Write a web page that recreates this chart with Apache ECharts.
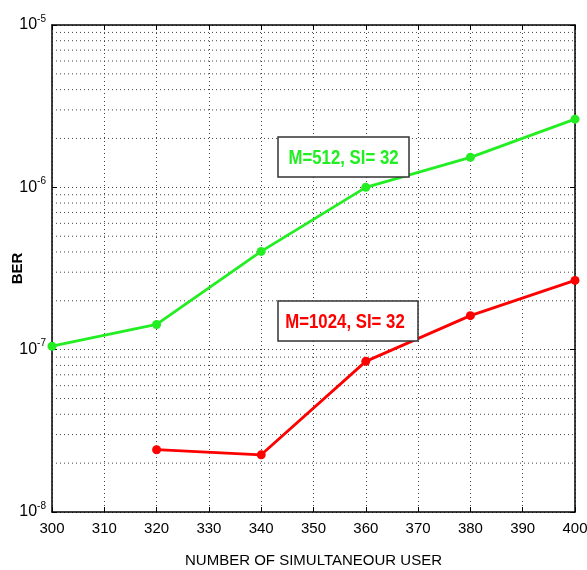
<!DOCTYPE html>
<html><head><meta charset="utf-8">
<script src="https://cdn.jsdelivr.net/npm/echarts@6/dist/echarts.min.js"></script>
<style>html,body{margin:0;padding:0;background:#fff}#c{width:587px;height:570px}</style>
</head><body><div id="c"></div>
<script>
const users = [300, 320, 340, 360, 380, 400];
const berM512 = [1.05e-7, 1.43e-7, 4.03e-7, 1.0e-6, 1.53e-6, 2.63e-6];
const berM1024 = [null, 2.42e-8, 2.25e-8, 8.47e-8, 1.62e-7, 2.67e-7];
const xTicks = [300, 310, 320, 330, 340, 350, 360, 370, 380, 390, 400];
const yDecades = [-8, -7, -6, -5];
const labelM512 = 'M=512, SI= 32';
const labelM1024 = 'M=1024, SI= 32';
const xTitle = 'NUMBER OF SIMULTANEOUR USER';
const yTitle = 'BER';

const FONT = 'Liberation Sans, Arial, sans-serif';
const xMin = xTicks[0], xMax = xTicks[xTicks.length - 1];
const gridDot = { color: '#444', width: 1, type: [1, 3] };
const minorSeries = [];
for (let d = yDecades[0]; d < yDecades[yDecades.length - 1]; d++) {
  for (let k = 2; k <= 9; k++) {
    const v = k * Math.pow(10, d);
    minorSeries.push({
      type: 'line', silent: true, symbol: 'none', z: 1,
      data: [[xMin, v], [xMax, v]], lineStyle: gridDot, tooltip: { show: false }
    });
  }
}
const pairs = (ys) => users.map((u, i) => [u, ys[i]]).filter(p => p[1] != null);

const chart = echarts.init(document.getElementById('c'));
const yLabel = {
  fontFamily: FONT, color: '#000', margin: 6,
  formatter: v => '{b|10}{s|' + Math.round(Math.log10(v)) + '}',
  rich: {
    b: { fontSize: 16, fontFamily: FONT, color: '#000' },
    s: { fontSize: 10, fontFamily: FONT, color: '#000', padding: [0, 0, 12, 0] }
  }
};
chart.setOption({
  animation: false,
  grid: { left: 52, right: 12, top: 25, bottom: 58, outerBoundsMode: 'none', containLabel: false },
  xAxis: [{
    type: 'value', min: xMin, max: xMax, interval: 10,
    name: xTitle, nameLocation: 'middle', nameGap: 41, nameMoveOverlap: false,
    nameTextStyle: { fontFamily: FONT, fontSize: 15, color: '#000' },
    axisLine: { lineStyle: { color: '#000', width: 1.5 } },
    axisTick: { inside: true, length: 5, lineStyle: { color: '#000' } },
    axisLabel: { fontFamily: FONT, fontSize: 15, color: '#000', margin: 9 },
    splitLine: { show: true, lineStyle: gridDot }
  }, {
    type: 'value', position: 'top', min: xMin, max: xMax, interval: 10,
    axisLine: { show: true, lineStyle: { color: '#000', width: 1.5 } },
    axisTick: { inside: true, length: 5, lineStyle: { color: '#000' } },
    axisLabel: { show: false }, splitLine: { show: false }
  }],
  yAxis: [{
    type: 'log', logBase: 10, min: Math.pow(10, yDecades[0]), max: Math.pow(10, yDecades[yDecades.length - 1]),
    name: yTitle, nameLocation: 'middle', nameGap: 27, nameRotate: 90, nameMoveOverlap: false,
    nameTextStyle: { fontFamily: FONT, fontSize: 15, fontWeight: 'bold', color: '#000' },
    axisLine: { show: true, lineStyle: { color: '#000', width: 1.5 } },
    axisTick: { show: true, inside: true, length: 5, lineStyle: { color: '#000' } },
    axisLabel: yLabel,
    splitLine: { show: true, lineStyle: gridDot }
  }, {
    type: 'log', logBase: 10, position: 'right', min: Math.pow(10, yDecades[0]), max: Math.pow(10, yDecades[yDecades.length - 1]),
    axisLine: { show: true, lineStyle: { color: '#000', width: 1.5 } },
    axisTick: { show: true, inside: true, length: 5, lineStyle: { color: '#000' } },
    axisLabel: { show: false }, splitLine: { show: false }
  }],
  series: minorSeries.concat([{
    name: labelM512, type: 'line', data: pairs(berM512), z: 5,
    symbol: 'circle', symbolSize: 9, color: '#22ee22',
    lineStyle: { width: 2.8, color: '#22ee22' }
  }, {
    name: labelM1024, type: 'line', data: pairs(berM1024), z: 5,
    symbol: 'circle', symbolSize: 9, color: '#ff0000',
    lineStyle: { width: 2.8, color: '#ff0000' }
  }]),
  graphic: [
    { type: 'rect', shape: { x: 278, y: 137, width: 131, height: 40 }, z: 100,
      style: { fill: '#fff', stroke: '#333', lineWidth: 1.5 } },
    { type: 'text', x: 343.5, y: 158, scaleX: 0.84, scaleY: 1.05, z: 101,
      style: { text: labelM512, fill: '#22ee22', font: 'bold 20px ' + FONT, align: 'center', verticalAlign: 'middle' } },
    { type: 'rect', shape: { x: 278, y: 301, width: 140, height: 40 }, z: 100,
      style: { fill: '#fff', stroke: '#333', lineWidth: 1.5 } },
    { type: 'text', x: 345, y: 322, scaleX: 0.84, scaleY: 1.05, z: 101,
      style: { text: labelM1024, fill: '#ff0000', font: 'bold 20px ' + FONT, align: 'center', verticalAlign: 'middle' } }
  ]
});
</script></body></html>
